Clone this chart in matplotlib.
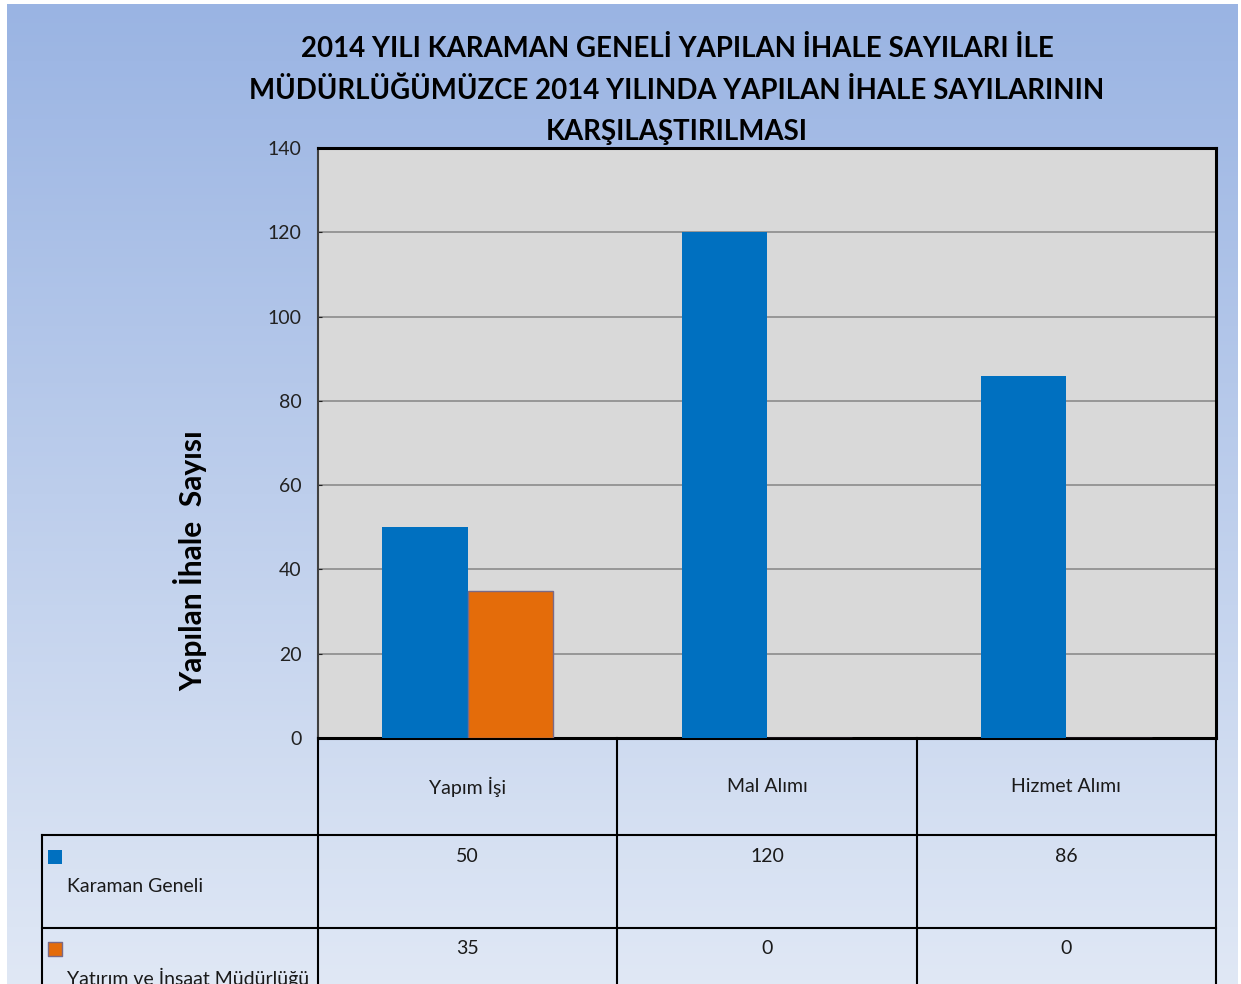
import numpy as np
import matplotlib.pyplot as plt
from matplotlib.colors import LinearSegmentedColormap
from matplotlib.transforms import blended_transform_factory

plt.rcParams['font.family'] = ['Lato', 'DejaVu Sans']

# data
categories = ['Yapım İşi', 'Mal Alımı', 'Hizmet Alımı']
series_names = ['Karaman Geneli', 'Yatırım ve İnşaat Müdürlüğü']
karaman = [50, 120, 86]
mudurluk = [35, 0, 0]
title_lines = ['2014 YILI KARAMAN GENELİ YAPILAN İHALE SAYILARI İLE',
               'MÜDÜRLÜĞÜMÜZCE 2014 YILINDA YAPILAN İHALE SAYILARININ',
               'KARŞILAŞTIRILMASI']
ylabel = 'Yapılan İhale  Sayısı'

BLUE = '#0070c0'
ORANGE = '#e46c0a'
W, H = 1241, 984

fig = plt.figure(figsize=(W / 100, H / 100), dpi=100)

# gradient background panel
bg = fig.add_axes([7 / W, 0, 1231 / W, 980 / H])
grad = LinearSegmentedColormap.from_list('bg', ['#9ab4e3', '#e0e8f5'])
bg.imshow(np.linspace(0, 1, 256).reshape(-1, 1), aspect='auto', cmap=grad,
          extent=[0, 1, 0, 1], origin='upper')
bg.axis('off')

# main plot area
ax = fig.add_axes([318 / W, 1 - 738 / H, 898 / W, 590 / H])
ax.set_facecolor('#d9d9d9')
x = np.arange(len(categories))
w = 0.285
ax.bar(x - w / 2, karaman, w, color=BLUE, zorder=3)
ax.bar(x + w / 2, mudurluk, w, color=ORANGE, edgecolor='#7b6a86',
       linewidth=1.0, zorder=3)
ax.set_xlim(-0.5, len(categories) - 0.5)
ax.set_ylim(0, 140)
ax.set_yticks(np.arange(0, 141, 20))
ax.yaxis.grid(True, color='#8c8c8c', linewidth=1.2, zorder=0)
ax.set_axisbelow(True)
ax.set_xticks([])
ax.tick_params(axis='y', direction='in', length=3, pad=12, labelsize=14,
               colors='#222222')
for side in ['top', 'right', 'bottom']:
    ax.spines[side].set_color('black')
    ax.spines[side].set_linewidth(2.2)
ax.spines['left'].set_color('#404040')
ax.spines['left'].set_linewidth(1.5)

# overlay in pixel coords for title, table
over = fig.add_axes([0, 0, 1, 1], facecolor='none')
over.set_xlim(0, W)
over.set_ylim(H, 0)
over.axis('off')
tr = blended_transform_factory(ax.transData, over.transData)

for i, line in enumerate(title_lines):
    over.text(677, 49 + 41.5 * i, line, ha='center', va='center',
              fontsize=19.9, fontweight='bold')

fig.text(190 / W, 1 - 561 / H, ylabel, rotation=90, ha='center',
         va='center', fontsize=21.5, fontweight='bold')

# data table
edges = np.arange(len(categories) + 1) - 0.5
lc = 'black'
for e in edges:
    over.plot([e, e], [738, H + 5], color=lc, lw=1.5, transform=tr,
              clip_on=False)
over.plot([42, 42], [835, H + 5], color=lc, lw=1.5)
right_px = ax.transData.transform((edges[-1], 0))[0]
for yy in [835, 928]:
    over.plot([42, right_px], [yy, yy], color=lc, lw=1.5)

for i, cat in enumerate(categories):
    over.text(i, 787, cat, transform=tr, ha='center', va='center',
              fontsize=14, color='#1a1a1a')

rows = [(karaman, BLUE, 'none', 856), (mudurluk, ORANGE, '#7b6a86', 948)]
for (vals, col, ec, yy), name in zip(rows, series_names):
    for i, v in enumerate(vals):
        over.text(i, yy, str(v), transform=tr, ha='center', va='center',
                  fontsize=14, color='#1a1a1a')
    over.scatter([55], [yy + 1], marker='s', s=110, color=col,
                 edgecolors=ec, linewidths=1.0, clip_on=False)
    over.text(67, yy + 30, name, ha='left', va='center', fontsize=14,
              color='#1a1a1a')

plt.savefig('out.png', dpi=100)
